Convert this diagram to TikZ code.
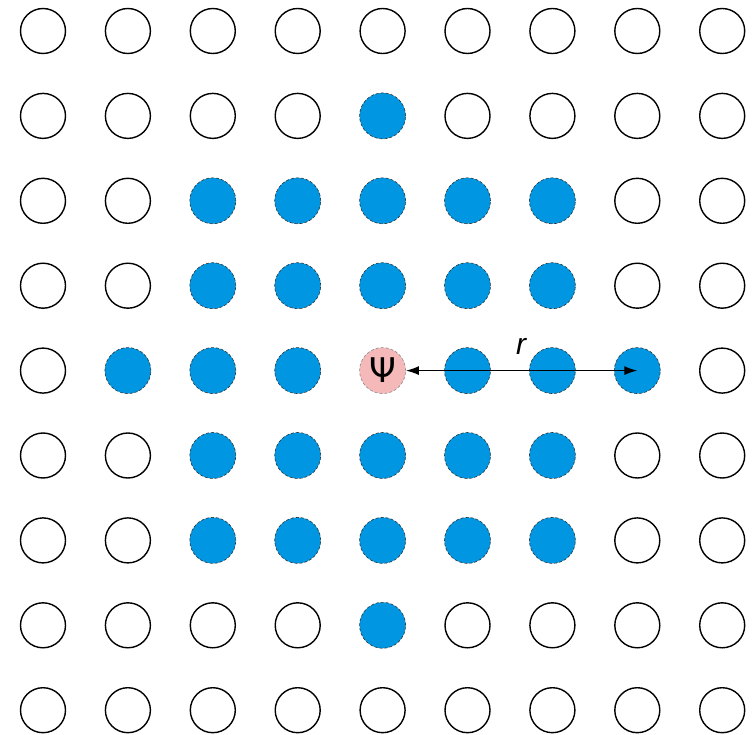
\documentclass[tikz,border=0pt]{standalone}
\usepackage{fontspec}
\setmainfont{Liberation Sans}
\newfontfamily\psifont{DejaVu Sans}
\usetikzlibrary{arrows.meta}
\definecolor{siteblue}{RGB}{0,150,225}
\definecolor{psipink}{RGB}{245,185,185}
\begin{document}
\begin{tikzpicture}[x=1pt,y=-1pt,
  emptysite/.style={circle,draw=black,line width=1.4pt,minimum size=45pt,inner sep=0pt},
  fullsite/.style={circle,draw=black!80,densely dashed,line width=0.6pt,fill=siteblue,minimum size=46pt,inner sep=0pt},
  psisite/.style={circle,draw=black!45,densely dashed,line width=0.6pt,fill=psipink,minimum size=46pt,inner sep=0pt,font=\psifont\fontsize{34}{34}\selectfont},
  conn/.style={line width=1.3pt,{Latex[length=13pt,width=9pt]}-{Latex[length=13pt,width=9pt]}}]
\useasboundingbox (0,0) rectangle (752,735);
\foreach \r in {0,...,8}{
  \foreach \c in {0,...,8}{
    \pgfmathtruncatemacro{\dr}{abs(\r-4)}
    \pgfmathtruncatemacro{\dc}{abs(\c-4)}
    \pgfmathtruncatemacro{\isfull}{((\dr<=2 && \dc<=2) || (\dr==3 && \dc==0) || (\dr==0 && \dc==3)) ? 1 : 0}
    \pgfmathtruncatemacro{\iscenter}{(\dr==0 && \dc==0) ? 1 : 0}
    \ifnum\iscenter=1
      \node[psisite] (s-\r-\c) at (43+84.9*\c,31+84.9*\r) {\raisebox{-1pt}{Ψ}};
    \else\ifnum\isfull=1
      \node[fullsite] (s-\r-\c) at (43+84.9*\c,31+84.9*\r) {};
    \else
      \node[emptysite] (s-\r-\c) at (43+84.9*\c,31+84.9*\r) {};
    \fi\fi
  }
}
\draw[conn] (s-4-4.east) -- (s-4-7.center);
\node[font=\fontsize{30}{30}\selectfont\itshape] (rlabel) at (521,346) {r};
\end{tikzpicture}
\end{document}
